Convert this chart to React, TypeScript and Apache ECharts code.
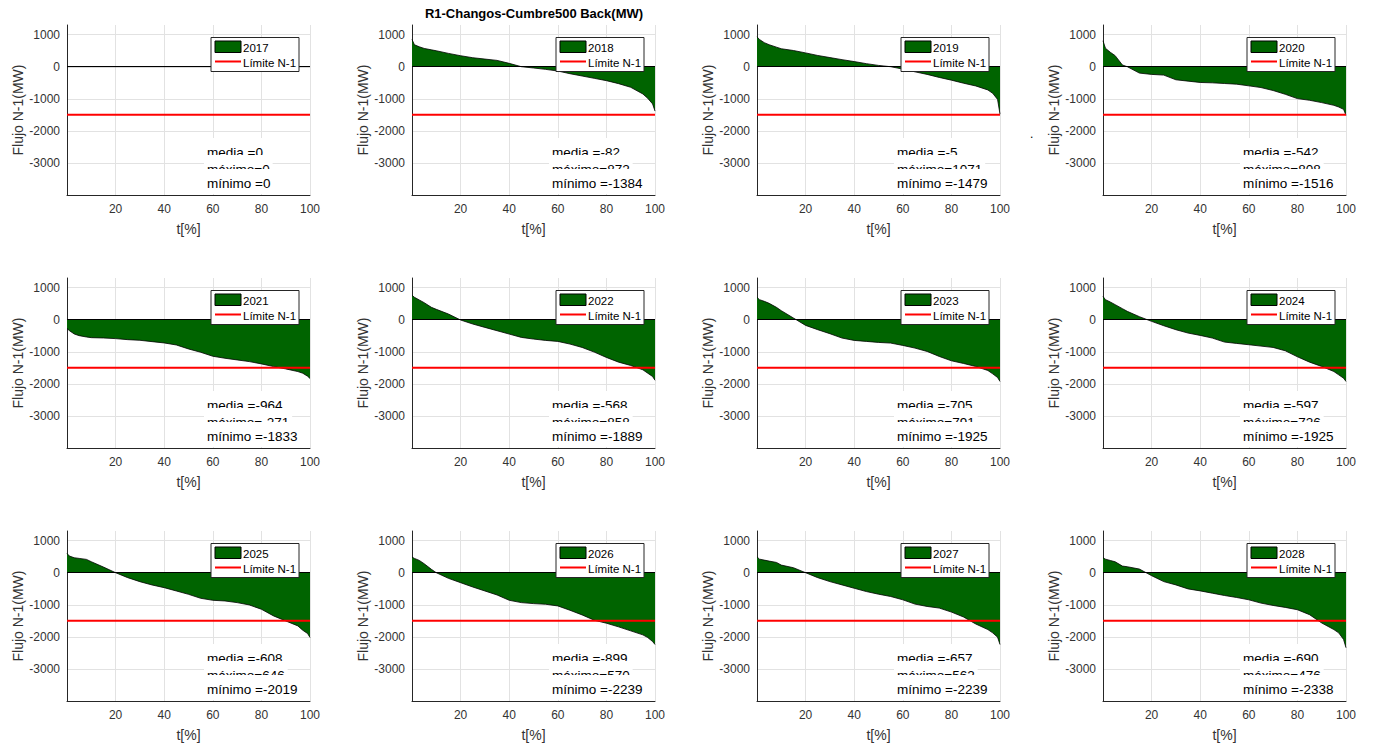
import React, { useEffect, useRef } from "react";
import * as echarts from "echarts";

// x positions (% of time) at which the duration curves were read
const PCT = [0, 1, 3, 5, 8, 10, 15, 20, 25, 30, 35, 40, 45, 50, 55, 60, 65, 70, 75, 80, 85, 90, 95, 97, 99, 100];

const YEARS = ["2017", "2018", "2019", "2020", "2021", "2022", "2023", "2024", "2025", "2026", "2027", "2028"];

const flow2017 = [0, 0, 0, 0, 0, 0, 0, 0, 0, 0, 0, 0, 0, 0, 0, 0, 0, 0, 0, 0, 0, 0, 0, 0, 0, 0];
const flow2018 = [850, 684, 620, 570, 525, 497, 415, 342, 280, 238, 197, 104, 0, -40, -83, -135, -218, -290, -363, -435, -528, -642, -850, -985, -1160, -1384];
const flow2019 = [930, 850, 750, 685, 610, 560, 505, 430, 350, 285, 220, 160, 95, 40, 0, -75, -160, -240, -335, -420, -515, -600, -725, -830, -1020, -1479];
const flow2020 = [808, 576, 450, 345, 52, 0, -200, -240, -262, -408, -450, -492, -503, -524, -545, -597, -650, -743, -860, -995, -1047, -1120, -1204, -1257, -1330, -1516];
const flow2021 = [-271, -342, -446, -497, -539, -560, -570, -590, -622, -642, -684, -725, -788, -912, -1015, -1140, -1202, -1254, -1306, -1378, -1461, -1534, -1617, -1668, -1762, -1833];
const flow2022 = [760, 698, 615, 531, 385, 323, 177, -10, -135, -240, -344, -448, -552, -604, -646, -677, -760, -865, -1010, -1177, -1323, -1427, -1562, -1667, -1771, -1889];
const flow2023 = [698, 625, 573, 510, 385, 281, 52, -177, -312, -437, -573, -646, -677, -708, -729, -802, -885, -990, -1146, -1281, -1365, -1458, -1583, -1688, -1802, -1925];
const flow2024 = [726, 625, 552, 469, 344, 260, 94, -52, -188, -312, -417, -490, -573, -698, -740, -781, -823, -865, -969, -1156, -1323, -1458, -1615, -1719, -1823, -1925];
const flow2025 = [600, 518, 466, 446, 415, 342, 176, 0, -155, -280, -383, -466, -570, -674, -798, -860, -881, -933, -1005, -1140, -1347, -1503, -1658, -1793, -1896, -2019];
const flow2026 = [487, 446, 383, 280, 104, 0, -176, -311, -446, -570, -694, -860, -933, -964, -984, -1036, -1171, -1316, -1482, -1575, -1689, -1813, -1938, -2021, -2145, -2239];
const flow2027 = [495, 423, 392, 361, 320, 237, 155, 0, -155, -278, -381, -485, -588, -670, -742, -845, -979, -1052, -1103, -1227, -1381, -1598, -1773, -1876, -2010, -2239];
const flow2028 = [464, 423, 381, 340, 206, 186, 113, -93, -278, -381, -505, -567, -639, -711, -773, -845, -948, -1021, -1082, -1155, -1309, -1567, -1773, -1876, -2082, -2338];

const MEDIA = [0, -82, -5, -542, -964, -568, -705, -597, -608, -899, -657, -690];
const MAXIMO = [0, 872, 1071, 808, -271, 858, 791, 726, 646, 570, 562, 476];
const MINIMO = [0, -1384, -1479, -1516, -1833, -1889, -1925, -1925, -2019, -2239, -2239, -2338];

const LIMIT = -1500;
const LIMIT_NAME = "Límite N-1";
const TITLE = "R1-Changos-Cumbre500 Back(MW)";
const X_TICKS_MAX = 100;

const FLOWS = [flow2017, flow2018, flow2019, flow2020, flow2021, flow2022, flow2023, flow2024, flow2025, flow2026, flow2027, flow2028];

// layout
const COL_LEFT = [67, 412, 757, 1103];
const ROW_TOP = [25, 278, 531];
const W = 243;
const H = 170;
const FONT = "'Liberation Sans', Arial, Helvetica, sans-serif";
const GREEN = "#006400";
const AXIS_COLOR = "#262626";
const LABEL_COLOR = "#333333";
const GRID_COLOR = "#e2e2e2";
const STAT_OFFSETS = [113, 130, 144];

function buildOption() {
  const grids: any[] = [];
  const xAxes: any[] = [];
  const yAxes: any[] = [];
  const series: any[] = [];
  const elements: any[] = [];

  YEARS.forEach((year, i) => {
    const r = Math.floor(i / 4);
    const c = i % 4;
    const L = COL_LEFT[c];
    const T = ROW_TOP[r];
    grids.push({ left: L, top: T, width: W, height: H, containLabel: false });
    xAxes.push({
      gridIndex: i,
      type: "value",
      min: 0,
      max: X_TICKS_MAX,
      interval: 20,
      name: "t[%]",
      nameLocation: "middle",
      nameGap: 27,
      nameTextStyle: { fontSize: 14, color: LABEL_COLOR, fontFamily: FONT },
      axisLine: { show: true, onZero: false, lineStyle: { color: AXIS_COLOR, width: 1 } },
      axisTick: { show: false },
      axisLabel: {
        margin: 8,
        fontSize: 12,
        color: LABEL_COLOR,
        fontFamily: FONT,
        formatter: (v: number) => (v === 0 ? "" : String(v)),
      },
      splitLine: { show: true, lineStyle: { color: GRID_COLOR, width: 1 } },
    });
    yAxes.push({
      gridIndex: i,
      type: "value",
      min: -4000,
      max: 1300,
      interval: 1000,
      name: "Flujo N-1(MW)",
      nameLocation: "middle",
      nameGap: 42,
      nameTextStyle: { fontSize: 14, color: LABEL_COLOR, fontFamily: FONT },
      axisLine: { show: true, onZero: false, lineStyle: { color: AXIS_COLOR, width: 1 } },
      axisTick: { show: false },
      axisLabel: {
        margin: 7,
        fontSize: 12,
        color: LABEL_COLOR,
        fontFamily: FONT,
        formatter: (v: number) => (v % 1000 === 0 && v > -4000 ? String(v) : ""),
      },
      splitLine: { show: true, showMaxLine: false, lineStyle: { color: GRID_COLOR, width: 1 } },
    });
    series.push({
      name: year,
      type: "line",
      xAxisIndex: i,
      yAxisIndex: i,
      data: PCT.map((x, k) => [x, FLOWS[i][k]]),
      symbol: "none",
      lineStyle: { color: "#000", width: 0.8 },
      itemStyle: { color: GREEN },
      areaStyle: { color: GREEN, opacity: 1, origin: 0 },
      z: 2,
      markLine: {
        silent: true,
        symbol: "none",
        label: { show: false },
        lineStyle: { color: "#000", width: 1, type: "solid" },
        data: [{ yAxis: 0 }],
      },
    });
    series.push({
      name: LIMIT_NAME,
      type: "line",
      xAxisIndex: i,
      yAxisIndex: i,
      data: [
        [0, LIMIT],
        [X_TICKS_MAX, LIMIT],
      ],
      symbol: "none",
      lineStyle: { color: "#ff0000", width: 2 },
      itemStyle: { color: "#ff0000" },
      z: 3,
    });

    // legend box
    const bx = L + W - 11 - 88;
    const by = T + 12.5;
    elements.push({
      type: "rect",
      shape: { x: bx, y: by, width: 88, height: 34 },
      style: { fill: "#fff", stroke: AXIS_COLOR, lineWidth: 1 },
      z: 10,
    });
    elements.push({
      type: "rect",
      shape: { x: bx + 4, y: by + 3.5, width: 26, height: 11.5 },
      style: { fill: GREEN, stroke: "#000", lineWidth: 1 },
      z: 11,
    });
    elements.push({
      type: "text",
      x: bx + 32,
      y: by + 10.5,
      style: { text: year, font: `11.5px ${FONT}`, fill: "#000", verticalAlign: "middle", align: "left" },
      z: 11,
    });
    elements.push({
      type: "line",
      shape: { x1: bx + 4, y1: by + 24, x2: bx + 30, y2: by + 24 },
      style: { stroke: "#ff0000", lineWidth: 2 },
      z: 11,
    });
    elements.push({
      type: "text",
      x: bx + 32,
      y: by + 25.5,
      style: { text: LIMIT_NAME, font: `11.5px ${FONT}`, fill: "#000", verticalAlign: "middle", align: "left" },
      z: 11,
    });

    // statistics texts (white backgrounds overlap like the original)
    const stats = [
      `media =${MEDIA[i]}`,
      `máximo=${MAXIMO[i]}`,
      `mínimo =${MINIMO[i]}`,
    ];
    stats.forEach((s, k) => {
      elements.push({
        type: "text",
        x: L + 137,
        y: T + STAT_OFFSETS[k],
        style: {
          text: s,
          font: `13.5px ${FONT}`,
          fill: "#000",
          backgroundColor: "#fff",
          padding: [6, 3, 3, 3],
          lineHeight: 16,
          verticalAlign: "top",
          align: "left",
        },
        z: 12 + k,
      });
    });
  });

  elements.push({
    type: "text",
    x: 1030,
    y: 128,
    style: { text: ".", font: `12px ${FONT}`, fill: "#000" },
    z: 20,
  });

  return {
    animation: false,
    backgroundColor: "#ffffff",
    textStyle: { fontFamily: FONT },
    title: {
      text: TITLE,
      left: 534,
      top: 7,
      textAlign: "center",
      padding: 0,
      textStyle: { fontSize: 13, fontWeight: "bold", color: "#000", fontFamily: FONT },
    },
    grid: grids,
    xAxis: xAxes,
    yAxis: yAxes,
    series,
    graphic: { elements },
  };
}

export default function App() {
  const ref = useRef<HTMLDivElement>(null);
  useEffect(() => {
    if (!ref.current) return;
    const chart = echarts.init(ref.current, undefined, { renderer: "svg" });
    chart.setOption(buildOption() as any);
    return () => chart.dispose();
  }, []);
  return (
    <div
      ref={ref}
      style={{ position: "absolute", left: 0, top: 0, width: 1374, height: 750, background: "#fff" }}
    />
  );
}
